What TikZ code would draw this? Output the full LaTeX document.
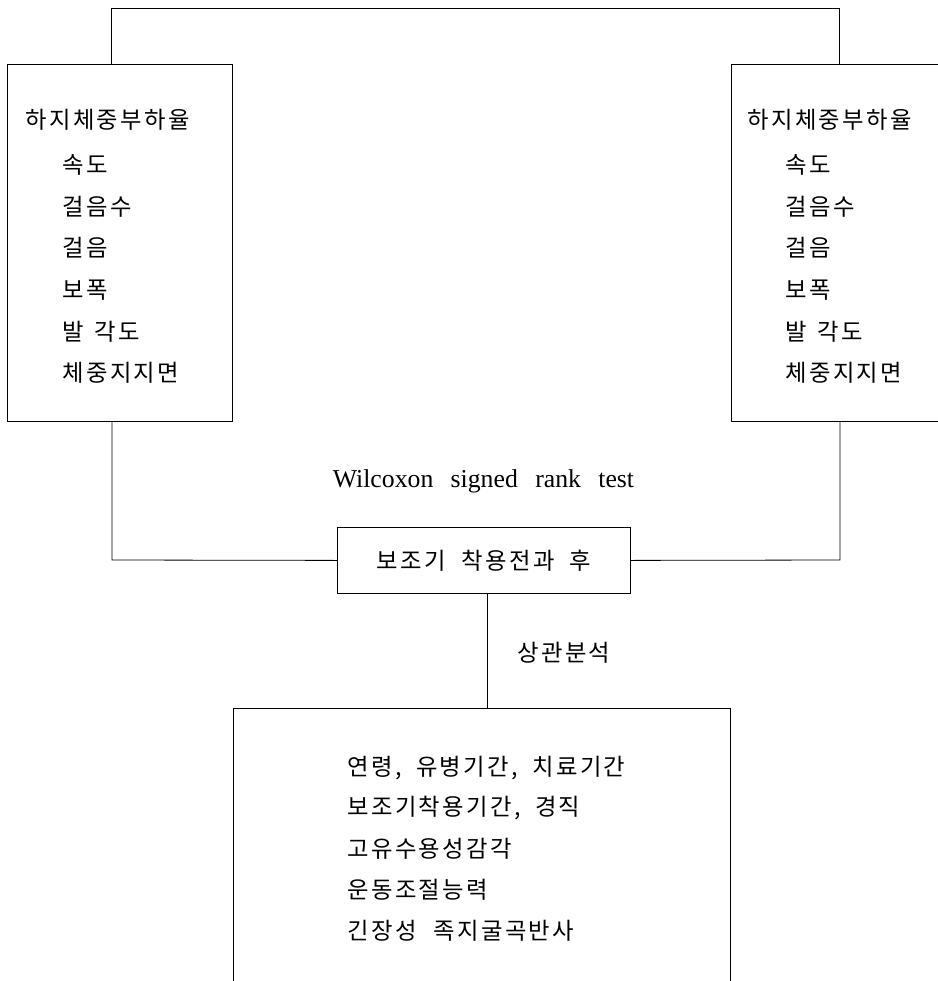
\documentclass[tikz,border=0pt]{standalone}
\usepackage{fontspec}
\setmainfont{Liberation Serif}
\newfontfamily\kr[LetterSpace=10]{Noto Sans CJK KR}
\newfontfamily\wfont[WordSpace=2.7]{Liberation Serif}
\begin{document}
\begin{tikzpicture}[x=0.75pt,y=-0.75pt,
  line width=0.6pt,
  box/.style={draw, inner sep=0pt, anchor=north west},
  txt/.style={font=\kr\fontsize{17.5}{21}\selectfont, inner sep=0pt, anchor=west},
  eng/.style={font=\wfont\fontsize{19.3}{22}\selectfont, inner sep=0pt, anchor=base}]
\useasboundingbox (0,0) rectangle (938,981);
% boxes
\node[box, minimum width=168.75pt, minimum height=267.75pt] (L) at (7,64) {};
\node[box, minimum width=161.25pt, minimum height=267.75pt] (R) at (731,64) {};
\node[box, minimum width=219.75pt, minimum height=49.5pt, anchor=north west,
      font=\kr\fontsize{17.5}{21}\selectfont] (S) at (337,527)
      {보조기\hspace{12pt}착용전과\hspace{11pt}후};
\node[inner sep=0pt, anchor=north west, minimum width=372.75pt, minimum height=204.75pt] (B) at (233,708) {};
\draw (B.south west) -- (B.north west) -- (B.north east) -- (B.south east);
% connector corners
\coordinate (ltop) at (111,8);
\coordinate (rtop) at (839,8);
\coordinate (lbot) at (112,560);
\coordinate (rbot) at (840,560);
\coordinate (smid) at (487,593);
\draw (L.north -| ltop) -- (ltop) -- (rtop) -- (R.north -| rtop);
\draw (L.south -| lbot) -- (lbot) -- (S.west);
\draw (S.east) -- (rbot) -- (R.south -| rbot);
\draw (S.south -| smid) -- (B.north -| smid);
% left box text
\node[txt] (l0) at (25,120) {하지체중부하율};
\node[txt] (l1) at (62,165) {속도};
\node[txt] (l2) at (62,207) {걸음수};
\node[txt] (l3) at (62,248) {걸음};
\node[txt] (l4) at (62,290) {보폭};
\node[txt] (l5) at (62,332) {발\hspace{8pt}각도};
\node[txt] (l6) at (62,373) {체중지지면};
% right box text
\node[txt] (r0) at (747,120) {하지체중부하율};
\node[txt] (r1) at (785,165) {속도};
\node[txt] (r2) at (785,207) {걸음수};
\node[txt] (r3) at (785,248) {걸음};
\node[txt] (r4) at (785,290) {보폭};
\node[txt] (r5) at (785,332) {발\hspace{8pt}각도};
\node[txt] (r6) at (785,373) {체중지지면};
% labels
\node[eng] (wil) at (483.5,487) {Wilcoxon signed rank test};
\node[txt] (corr) at (517,653) {상관분석};
% bottom box text
\node[txt] (b1) at (347,768) {연령,\hspace{11pt}유병기간,\hspace{11pt}치료기간};
\node[txt] (b2) at (347,808) {보조기착용기간,\hspace{11pt}경직};
\node[txt] (b3) at (347,849) {고유수용성감각};
\node[txt] (b4) at (347,890) {운동조절능력};
\node[txt] (b5) at (347,931) {긴장성\hspace{13pt}족지굴곡반사};
\end{tikzpicture}
\end{document}
